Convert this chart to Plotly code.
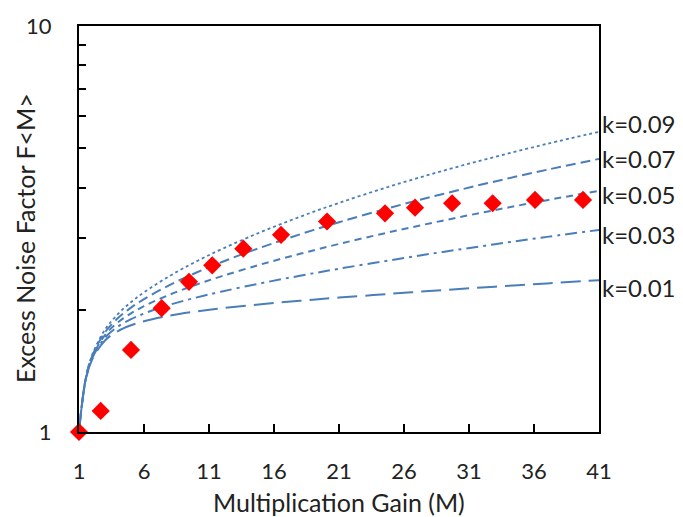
import plotly.graph_objects as go

# Theoretical curves
gain = [1, 1.5, 2, 3, 4, 5, 6, 8, 10, 12, 15, 18, 21, 25, 29, 33, 37, 41]
f_k001 = [1.0, 1.335, 1.505, 1.680, 1.773, 1.832, 1.875, 1.936, 1.981, 2.018, 2.064, 2.105, 2.143, 2.190, 2.236, 2.280, 2.323, 2.366]
f_k003 = [1.0, 1.338, 1.515, 1.707, 1.818, 1.896, 1.958, 2.059, 2.143, 2.219, 2.325, 2.426, 2.524, 2.651, 2.777, 2.901, 3.024, 3.146]
f_k005 = [1.0, 1.342, 1.525, 1.733, 1.863, 1.960, 2.042, 2.181, 2.305, 2.421, 2.587, 2.747, 2.905, 3.112, 3.317, 3.521, 3.724, 3.927]
f_k007 = [1.0, 1.345, 1.535, 1.760, 1.908, 2.024, 2.125, 2.304, 2.467, 2.623, 2.848, 3.068, 3.286, 3.573, 3.858, 4.142, 4.425, 4.707]
f_k009 = [1.0, 1.348, 1.545, 1.787, 1.953, 2.088, 2.208, 2.426, 2.629, 2.824, 3.109, 3.389, 3.667, 4.034, 4.399, 4.762, 5.125, 5.488]

# Measured points
meas_m = [1, 2.67, 5.0, 7.36, 9.46, 11.25, 13.64, 16.54, 20.08, 24.54, 26.85, 29.7, 32.82, 36.08, 39.77]
meas_f = [1.0, 1.127, 1.593, 2.018, 2.344, 2.574, 2.829, 3.06, 3.30, 3.457, 3.569, 3.66, 3.66, 3.73, 3.73]

labels = ["k=0.09", "k=0.07", "k=0.05", "k=0.03", "k=0.01"]
label_logy = [0.760, 0.673, 0.584, 0.486, 0.356]

x_ticks = [1, 6, 11, 16, 21, 26, 31, 36, 41]
y_ticks = [1, 2, 3, 4, 5, 6, 7, 8, 9, 10]
y_ticktext = ["1", "", "", "", "", "", "", "", "", "10"]

x_title = "Multiplication Gain (M)"
y_title = "Excess Noise Factor F&lt;M&gt;"

FONT = "Lato, 'Noto Sans', sans-serif"
BLUE = "#4A7EBB"
TXT = "#222222"

fig = go.Figure()
series = [
    (f_k009, "dot", 1.8),
    (f_k007, "10px,5px", 2),
    (f_k005, "7px,5px", 2),
    (f_k003, "12px,5px,3px,5px", 2),
    (f_k001, "20px,8px", 2),
]
for vals, dash, w in series:
    fig.add_trace(go.Scatter(x=gain, y=vals, mode="lines", line=dict(color=BLUE, width=w, dash=dash, shape="spline"),
                             showlegend=False, hoverinfo="skip"))

fig.add_trace(go.Scatter(x=meas_m, y=meas_f, mode="markers",
                         marker=dict(symbol="diamond", size=14, color="#FF0000"),
                         showlegend=False, cliponaxis=False))

for txt, ly in zip(labels, label_logy):
    fig.add_annotation(x=1.0, xref="paper", y=ly, yref="y", text=txt, showarrow=False,
                       xanchor="left", yanchor="middle", xshift=1,
                       font=dict(family=FONT, size=24, color=TXT))

# axis titles as annotations for exact placement
fig.add_annotation(x=0.5, xref="paper", y=-0.1736, yref="paper", text=x_title, showarrow=False,
                   xanchor="center", yanchor="middle", font=dict(family=FONT, size=25, color=TXT))
fig.add_annotation(x=-0.1038, xref="paper", y=0.478, yref="paper", text=y_title, showarrow=False,
                   textangle=-90, xanchor="center", yanchor="middle", font=dict(family=FONT, size=25, color=TXT))

fig.update_layout(
    width=683, height=517,
    margin=dict(l=79, r=84, t=23, b=85),
    plot_bgcolor="white", paper_bgcolor="white",
    font=dict(family=FONT, size=22, color=TXT),
)
fig.update_xaxes(range=[1, 41], tickvals=x_ticks, ticks="inside", ticklen=8, tickwidth=2, tickcolor="black",
                 showline=True, linecolor="black", linewidth=2, mirror=True, showgrid=False, zeroline=False,
                 ticklabelstandoff=19, tickfont=dict(size=22))
fig.update_yaxes(type="log", range=[0, 1], tickvals=y_ticks, ticktext=y_ticktext, ticks="inside", ticklen=7,
                 tickwidth=2, tickcolor="black", showline=True, linecolor="black", linewidth=2, mirror=True,
                 showgrid=False, zeroline=False, ticklabelstandoff=21, tickfont=dict(size=22))

fig.write_html("out.html")
